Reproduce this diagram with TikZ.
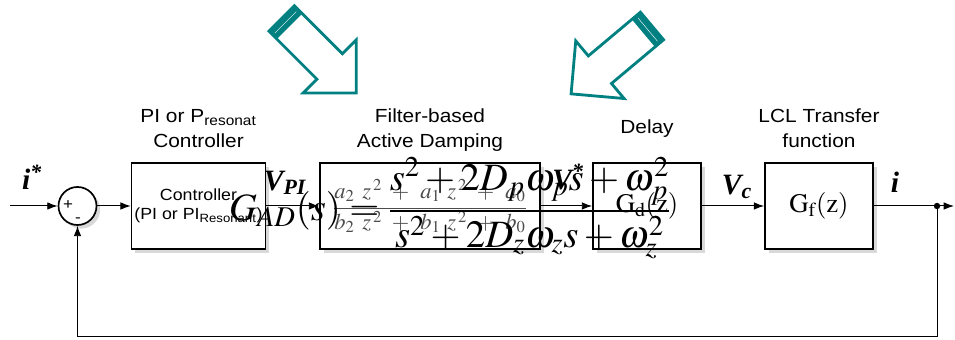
\documentclass[tikz,border=0pt]{standalone}
\usepackage{amsmath}
\usepackage{mathptmx}
\usepackage[no-math]{fontspec}
\setmainfont{Liberation Sans}[FakeStretch=1.1]
\newfontfamily\lblfont{Liberation Serif}
\usetikzlibrary{positioning,shadows,arrows.meta}
\definecolor{damp}{RGB}{0,128,128}

\tikzset{
  block/.style={draw, line width=1.2pt, fill=white, minimum height=2.15cm, inner sep=2pt,
    drop shadow={shadow xshift=0.09cm, shadow yshift=-0.09cm, opacity=0.3}},
  sumnode/.style={circle, draw, line width=1.2pt, fill=white, minimum size=0.95cm, inner sep=0pt,
    drop shadow={shadow xshift=0.09cm, shadow yshift=-0.09cm, opacity=0.3}},
  signal/.style={->, line width=0.7pt},
  title/.style={font=\fontsize{13.5}{17.5}\selectfont, align=center, inner sep=0pt},
  sig/.style={font=\lblfont\bfseries\itshape\fontsize{21}{24}\selectfont, inner sep=0pt},
  bigarrow/.style={draw=damp, line width=2pt, fill=white, line join=miter},
}

\begin{document}
\begin{tikzpicture}[>={Latex[length=0.26cm,width=0.19cm]}]
    \useasboundingbox (0,0) rectangle (23.875,8.5);

    % Hollow arrows pointing down at the damping and delay blocks
    \begin{scope}[shift={(7.04,8.04)}, rotate=-45]
        \draw[bigarrow] (0,-0.45) -- (1.7,-0.45) -- (1.7,-0.94) -- (2.64,0) -- (1.7,0.94) -- (1.7,0.45) -- (0,0.45) -- cycle;
        \fill[damp] (0,-0.45) rectangle (0.28,0.45);
        \draw[white, line width=0.3pt] (0.14,-0.38) -- (0.14,0.38);
    \end{scope}
    \begin{scope}[shift={(16.3,7.85)}, rotate=220]
        \draw[bigarrow] (0,-0.45) -- (1.7,-0.45) -- (1.7,-0.94) -- (2.64,0) -- (1.7,0.94) -- (1.7,0.45) -- (0,0.45) -- cycle;
        \fill[damp] (0,-0.45) rectangle (0.28,0.45);
        \draw[white, line width=0.3pt] (0.14,-0.38) -- (0.14,0.38);
    \end{scope}

    % Summing junction
    \node[sumnode] (sum) at (1.9375,3.35) {};
    \node[font=\fontsize{11}{12}\selectfont, inner sep=0pt] (plus) at (1.7,3.375) {+};
    \node[font=\fontsize{11}{12}\selectfont, inner sep=0pt] (minus) at (1.95,3.0) {-};

    % Blocks of the forward path
    \node[block, minimum width=3.175cm, font=\fontsize{11.5}{13.5}\selectfont, align=center] (ctrl) at (4.9625,3.35)
        {Controller\\(PI or PI\textsubscript{Resonant})};
    \node[block, minimum width=5.5cm, text=black!70] (filt) at (10.75,3.35)
        {\fontsize{16}{18}\selectfont $\dfrac{a_2\hspace{.35em}z^{\,2}\hspace{.3em}+\hspace{.35em}a_1\hspace{.3em}z^{\,2}\hspace{.3em}+\hspace{.35em}a_0}{b_2\hspace{.35em}z^{\,2}\hspace{.3em}+\hspace{.35em}b_1\hspace{.3em}z^{\,2}\hspace{.3em}+\hspace{.35em}b_0}$};
    \node[block, minimum width=2.7cm] (delay) at (16.175,3.35)
        {\fontsize{19}{21}\selectfont $\mathrm{G}_{\mathrm{d}}(\mathrm{z})$};
    \node[block, minimum width=2.7cm] (lcl) at (20.475,3.35)
        {\fontsize{19}{21}\selectfont $\mathrm{G}_{\mathrm{f}}(\mathrm{z})$};

    % Titles over the blocks
    \node[title, above=0.36cm of ctrl] (ctrltitle) {PI or P\textsubscript{resonat}\\Controller};
    \node[title, above=0.27cm of filt] (filttitle) {Filter-based\\Active Damping};
    \node[title, above=0.6cm of delay] (delaytitle) {Delay};
    \node[title, above=0.36cm of lcl] (lcltitle) {LCL Transfer\\function};

    % Signal path and feedback
    \coordinate (in) at (0.25,3.35);
    \coordinate (tap) at (23.425,3.35);
    \coordinate (out) at (23.85,3.35);
    \draw[signal] (in) -- (sum);
    \draw[signal] (sum) -- (ctrl);
    \draw[signal] (ctrl) -- (filt);
    \draw[signal] (filt) -- (delay);
    \draw[signal] (delay) -- (lcl);
    \draw[signal] (lcl) -- (out);
    \fill (tap) circle (0.08);
    \draw[signal] (tap) -- ++(0,-3.25) -| (sum);

    % Signal names
    \node[sig] (iref) at (0.8,4.07) {i\textsuperscript{*}};
    \node[sig] (vpi) at (7.125,3.925) {V\textsubscript{PI}};
    \node[sig] (vstar) at (14.2,4.075) {V\textsuperscript{*}};
    \node[sig] (vc) at (18.425,3.825) {V\textsubscript{c}};
    \node[sig] (iout) at (22.375,3.95) {i};

    % Damping transfer function in s
    \node[inner sep=0pt] (gad) at (11.25,3.3)
        {\fontsize{27.5}{32}\selectfont $\displaystyle G_{AD}(s) = \frac{s^2 + 2D_p\omega_p s + \omega_p^2}{s^2 + 2D_z\omega_z s + \omega_z^2}$};
\end{tikzpicture}
\end{document}
